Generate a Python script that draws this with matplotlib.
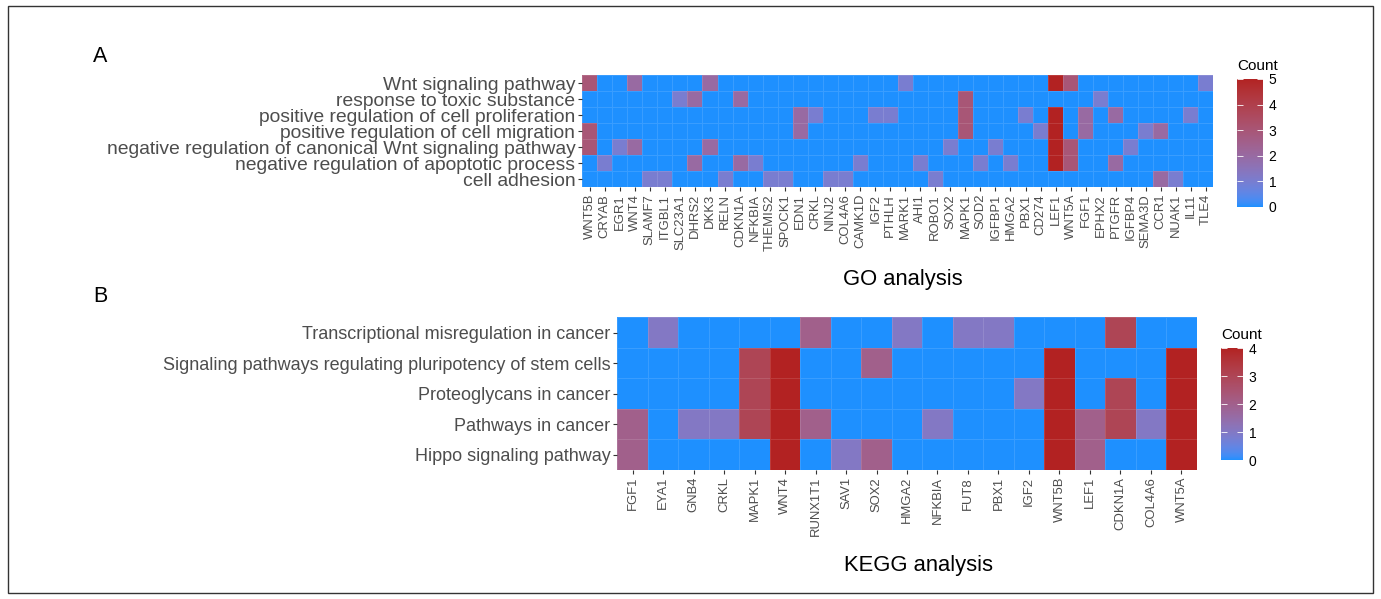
import numpy as np
import matplotlib
matplotlib.use("Agg")
import matplotlib.pyplot as plt
from matplotlib.colors import ListedColormap
from matplotlib.patches import Rectangle

plt.rcParams['font.family'] = ['Liberation Sans', 'DejaVu Sans']

# GO terms, top to bottom as shown
go_terms = ['Wnt signaling pathway', 'response to toxic substance',
            'positive regulation of cell proliferation',
            'positive regulation of cell migration',
            'negative regulation of canonical Wnt signaling pathway',
            'negative regulation of apoptotic process', 'cell adhesion']
go_genes = ['WNT5B', 'CRYAB', 'EGR1', 'WNT4', 'SLAMF7', 'ITGBL1', 'SLC23A1', 'DHRS2',
            'DKK3', 'RELN', 'CDKN1A', 'NFKBIA', 'THEMIS2', 'SPOCK1', 'EDN1', 'CRKL',
            'NINJ2', 'COL4A6', 'CAMK1D', 'IGF2', 'PTHLH', 'MARK1', 'AHI1', 'ROBO1',
            'SOX2', 'MAPK1', 'SOD2', 'IGFBP1', 'HMGA2', 'PBX1', 'CD274', 'LEF1',
            'WNT5A', 'FGF1', 'EPHX2', 'PTGFR', 'IGFBP4', 'SEMA3D', 'CCR1', 'NUAK1',
            'IL11', 'TLE4']
go_members = [
    ['WNT5B', 'WNT4', 'DKK3', 'MARK1', 'LEF1', 'WNT5A', 'TLE4'],
    ['SLC23A1', 'DHRS2', 'CDKN1A', 'MAPK1', 'EPHX2'],
    ['EDN1', 'CRKL', 'IGF2', 'PTHLH', 'MAPK1', 'PBX1', 'LEF1', 'FGF1', 'PTGFR', 'IL11'],
    ['WNT5B', 'EDN1', 'MAPK1', 'CD274', 'LEF1', 'FGF1', 'SEMA3D', 'CCR1'],
    ['WNT5B', 'EGR1', 'WNT4', 'DKK3', 'SOX2', 'IGFBP1', 'LEF1', 'WNT5A', 'IGFBP4'],
    ['CRYAB', 'DHRS2', 'CDKN1A', 'NFKBIA', 'CAMK1D', 'AHI1', 'SOD2', 'HMGA2', 'LEF1',
     'WNT5A', 'PTGFR'],
    ['SLAMF7', 'ITGBL1', 'RELN', 'THEMIS2', 'SPOCK1', 'NINJ2', 'COL4A6', 'ROBO1',
     'CCR1', 'NUAK1'],
]

# KEGG pathways, top to bottom as shown
kegg_terms = ['Transcriptional misregulation in cancer',
              'Signaling pathways regulating pluripotency of stem cells',
              'Proteoglycans in cancer', 'Pathways in cancer', 'Hippo signaling pathway']
kegg_genes = ['FGF1', 'EYA1', 'GNB4', 'CRKL', 'MAPK1', 'WNT4', 'RUNX1T1', 'SAV1', 'SOX2',
              'HMGA2', 'NFKBIA', 'FUT8', 'PBX1', 'IGF2', 'WNT5B', 'LEF1', 'CDKN1A',
              'COL4A6', 'WNT5A']
kegg_members = [
    ['EYA1', 'RUNX1T1', 'HMGA2', 'FUT8', 'PBX1', 'CDKN1A'],
    ['MAPK1', 'WNT4', 'SOX2', 'WNT5B', 'WNT5A'],
    ['MAPK1', 'WNT4', 'IGF2', 'WNT5B', 'CDKN1A', 'WNT5A'],
    ['FGF1', 'GNB4', 'CRKL', 'MAPK1', 'WNT4', 'RUNX1T1', 'NFKBIA', 'WNT5B', 'LEF1',
     'CDKN1A', 'COL4A6', 'WNT5A'],
    ['FGF1', 'WNT4', 'SAV1', 'SOX2', 'WNT5B', 'LEF1', 'WNT5A'],
]


def count_matrix(terms, genes, members):
    m = np.array([[g in mem for g in genes] for mem in members], dtype=float)
    # each filled tile shows how many terms the gene belongs to
    return m * m.sum(axis=0)


def lab_gradient(c0, c1, n=256):
    # ggplot-like gradient: interpolate in CIE Lab
    M = np.array([[0.4124, 0.3576, 0.1805], [0.2126, 0.7152, 0.0722],
                  [0.0193, 0.1192, 0.9505]])
    wp = M.sum(axis=1)

    def to_lab(c):
        c = np.array(matplotlib.colors.to_rgb(c))
        lin = np.where(c <= 0.04045, c / 12.92, ((c + 0.055) / 1.055) ** 2.4)
        t = M @ lin / wp
        f = np.where(t > 0.008856, np.cbrt(t), 7.787 * t + 16 / 116)
        return np.array([116 * f[1] - 16, 500 * (f[0] - f[1]), 200 * (f[1] - f[2])])

    a, b = to_lab(c0), to_lab(c1)
    out = []
    for s in np.linspace(0, 1, n):
        L, A, B = a + (b - a) * s
        fy = (L + 16) / 116
        f = np.array([fy + A / 500, fy, fy - B / 200])
        t = np.where(f ** 3 > 0.008856, f ** 3, (f - 16 / 116) / 7.787) * wp
        lin = np.linalg.solve(M, t)
        rgb = np.where(lin <= 0.0031308, 12.92 * lin, 1.055 * np.clip(lin, 0, None) ** (1 / 2.4) - 0.055)
        out.append(np.clip(rgb, 0, 1))
    return ListedColormap(out)


cmap = lab_gradient('#1E90FF', '#B22222')
txt = '#4D4D4D'

fig = plt.figure(figsize=(13.81, 5.99), dpi=100)
W, H = 1381, 599


def box(x0, y0, x1, y1):
    return [x0 / W, 1 - y1 / H, (x1 - x0) / W, (y1 - y0) / H]


def heat(ax, cax, terms, genes, members, vmax, ysize):
    data = count_matrix(terms, genes, members)
    mesh = ax.pcolormesh(data, cmap=cmap, vmin=0, vmax=vmax,
                         edgecolors=(1, 1, 1, 0.12), linewidth=0.5)
    ax.set_xlim(0, len(genes))
    ax.set_ylim(len(terms), 0)
    ax.set_xticks(np.arange(len(genes)) + 0.5)
    ax.set_xticklabels(genes, rotation=90, fontsize=9.4, color=txt)
    ax.set_yticks(np.arange(len(terms)) + 0.5)
    ax.set_yticklabels(terms, fontsize=ysize, color=txt)
    ax.tick_params(length=3, color='#333333', pad=2)
    for s in ax.spines.values():
        s.set_visible(False)
    cb = fig.colorbar(mesh, cax=cax, ticks=range(vmax + 1))
    cb.outline.set_visible(False)
    cax.tick_params(left=True, right=True, direction='in', color='white',
                    length=4, width=0.6, labelsize=10, labelcolor='black', pad=4)
    cax.text(0, 1.05, 'Count', transform=cax.transAxes, ha='left', va='bottom',
             fontsize=11)


ax1 = fig.add_axes(box(582.3, 75, 1213.3, 187))
cax1 = fig.add_axes(box(1237, 79, 1263, 207))
heat(ax1, cax1, go_terms, go_genes, go_members, 5, 13.9)

ax2 = fig.add_axes(box(617.3, 317.3, 1196.7, 470))
cax2 = fig.add_axes(box(1221, 348, 1243, 460))
heat(ax2, cax2, kegg_terms, kegg_genes, kegg_members, 4, 13.0)

fig.text(903 / W, 1 - 280 / H, 'GO analysis', ha='center', va='center', fontsize=15.8)
fig.text(918 / W, 1 - 566 / H, 'KEGG analysis', ha='center', va='center', fontsize=15.8)
fig.text(100 / W, 1 - 56 / H, 'A', ha='center', va='center', fontsize=15.5)
fig.text(100 / W, 1 - 296 / H, 'B', ha='center', va='center', fontsize=15.5)

fig.add_artist(Rectangle((8 / W, 1 - 593 / H), 1365 / W, 587 / H, transform=fig.transFigure,
                         fill=False, ec='#333333', lw=1))

fig.savefig('out.png', dpi=100)
